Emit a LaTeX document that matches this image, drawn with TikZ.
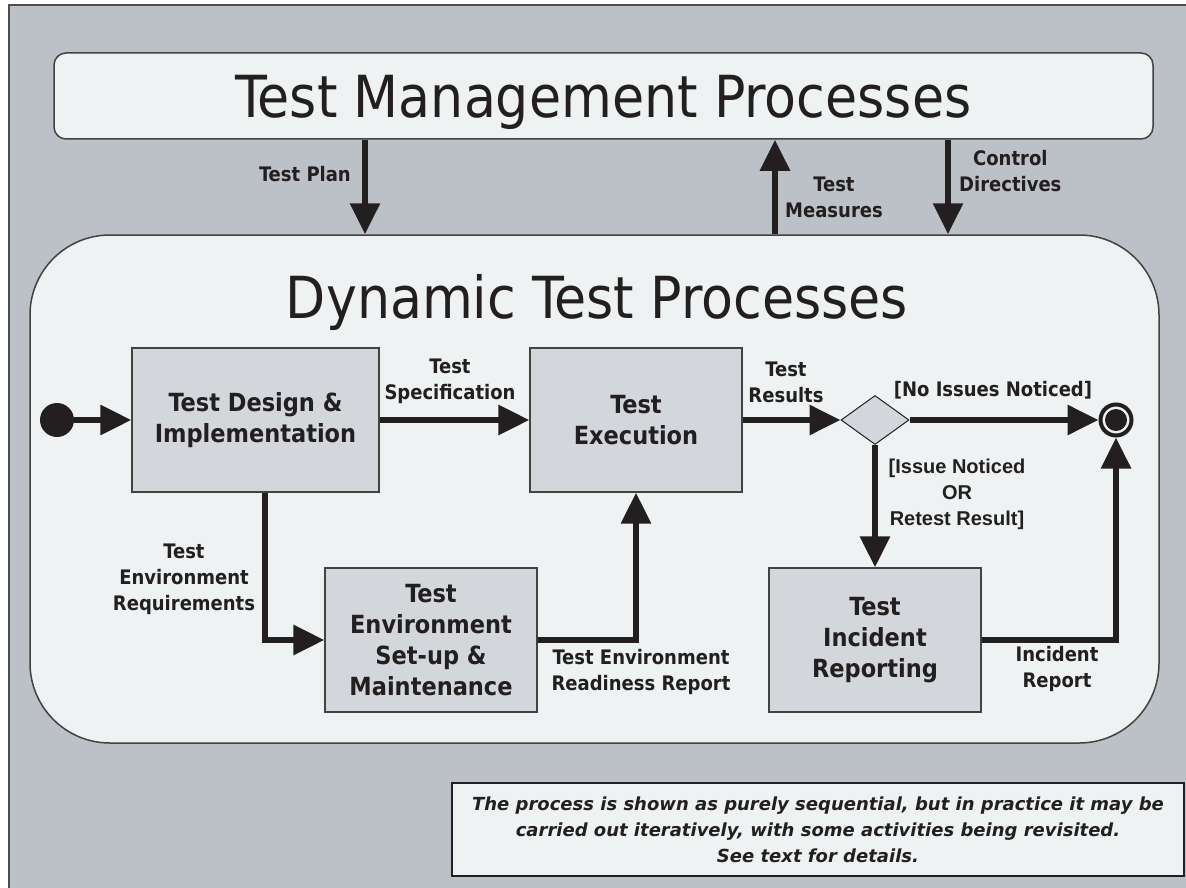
\documentclass[tikz,border=0pt]{standalone}
\usepackage{fontspec}
\setmainfont{DejaVu Sans Condensed}
\newfontfamily\arialface{Liberation Sans}
\newfontfamily\noteface{DejaVu Sans}
\usepackage{xcolor}
\definecolor{PageGray}{HTML}{BCC0C7}
\definecolor{PaleFill}{HTML}{EEF2F3}
\definecolor{BoxGray}{HTML}{D3D6DB}
\definecolor{InkDark}{HTML}{231F20}
\usetikzlibrary{shapes.geometric, arrows.meta, positioning}
\tikzstyle{procbox} = [rectangle, draw=InkDark!85, line width=1.3pt, fill=BoxGray, align=center, inner sep=0pt, minimum width=212pt, minimum height=144pt, text=InkDark, font=\fontsize{25}{31}\selectfont\bfseries]
\tikzstyle{bigbox} = [rectangle, draw=InkDark!85, line width=1.5pt, fill=PaleFill, inner sep=0pt]
\tikzstyle{bigtitle} = [anchor=base, inner sep=0pt, text=InkDark, font=\fontsize{58}{60}\selectfont]
\tikzstyle{lbl} = [align=center, inner sep=0pt, text=InkDark, font=\fontsize{20}{26}\selectfont\bfseries]
\tikzstyle{arrow} = [line width=6pt, draw=InkDark, -{Triangle[length=31pt,width=29pt]}]

\begin{document}
\begin{tikzpicture}[x=1pt, y=-1pt]
  \useasboundingbox (0,0) rectangle (1186,888);
  % page background
  \fill [PageGray] (9,5) rectangle (1200,900);
  \draw [InkDark!80, line width=1.2pt] (9,900) -- (9,5) -- (1200,5);

  % the two process groups
  \node (tmp) [bigbox, rounded corners=12pt, minimum width=1099pt, minimum height=86pt] at (603.5,96) {};
  \node (tmptitle) [bigtitle] at (603.5,118) {Test Management Processes};
  \node (dyn) [bigbox, rounded corners=80pt, minimum width=1129pt, minimum height=508pt] at (594.5,489) {};
  \node (dyntitle) [bigtitle] at (597,318) {Dynamic Test Processes};

  % activities
  \node (start) [circle, fill=InkDark, minimum size=34pt, inner sep=0pt] at (57,420) {};
  \node (design) [procbox, minimum width=247pt] at (255.5,420) {Test Design \&\\Implementation};
  \node (exec) [procbox] at (636,420) {Test\\Execution};
  \node (decide) [diamond, draw=InkDark, line width=1pt, fill=BoxGray, inner sep=0pt, minimum width=68pt, minimum height=49pt] at (875,420) {};
  \node (finish) [circle, draw=InkDark, line width=4pt, fill=PaleFill, minimum size=31pt, inner sep=0pt] at (1116,420) {};
  \node (finishdot) [circle, fill=InkDark, minimum size=22pt, inner sep=0pt] at (finish) {};
  \node (env) [procbox] at (431,640) {Test\\Environment\\Set-up \&\\Maintenance};
  \node (incident) [procbox] at (875,640) {Test\\Incident\\Reporting};

  % note
  \node (note) [rectangle, draw=InkDark, line width=2.5pt, fill=PaleFill, minimum width=732pt, minimum height=93pt, align=center, text=InkDark, font=\noteface\fontsize{18}{26}\selectfont\bfseries\itshape] at (818,829.5) {The process is shown as purely sequential, but in practice it may be\\carried out iteratively, with some activities being revisited.\\See text for details.};

  \coordinate (planx) at (365,0);
  \coordinate (measx) at (775,0);
  \coordinate (ctrlx) at (948,0);
  \coordinate (reqx) at (265,0);

  \draw [arrow] (tmp.south -| planx) -- (dyn.north -| planx);
  \draw [arrow] (dyn.north -| measx) -- (tmp.south -| measx);
  \draw [arrow] (tmp.south -| ctrlx) -- (dyn.north -| ctrlx);
  \draw [arrow] (start) -- (design);
  \draw [arrow] (design) -- (exec);
  \draw [arrow] (design.south -| reqx) |- (env.west);
  \draw [arrow] (env.east) -| (exec.south);
  \draw [arrow] (exec) -- (decide);
  \draw [arrow] (decide) -- (finish);
  \draw [arrow] (decide) -- (incident);
  \draw [arrow] (incident.east) -| (finish.south);

  % flow labels
  \node (planlbl) [lbl, anchor=east] at (351,174) {Test Plan};
  \node (measlbl) [lbl, anchor=west] at (785,197) {Test\\Measures};
  \node (ctrllbl) [lbl, anchor=west] at (959,171) {Control\\Directives};
  \node (speclbl) [lbl] at (450,381) {Test\\Specification};
  \node (reslbl) [lbl] at (786,382) {Test\\Results};
  \node (oklbl) [lbl] at (993,390) {[No Issues Noticed]};
  \node (issuelbl) [lbl, font=\arialface\fontsize{20}{26}\selectfont\bfseries] at (957,494) {[Issue Noticed\\OR\\Retest Result]};
  \node (reqlbl) [lbl] at (184,579) {Test\\Environment\\Requirements};
  \node (readylbl) [lbl] at (641,672) {Test Environment\\Readiness Report};
  \node (increplbl) [lbl] at (1057,669) {Incident\\Report};
\end{tikzpicture}
\end{document}
